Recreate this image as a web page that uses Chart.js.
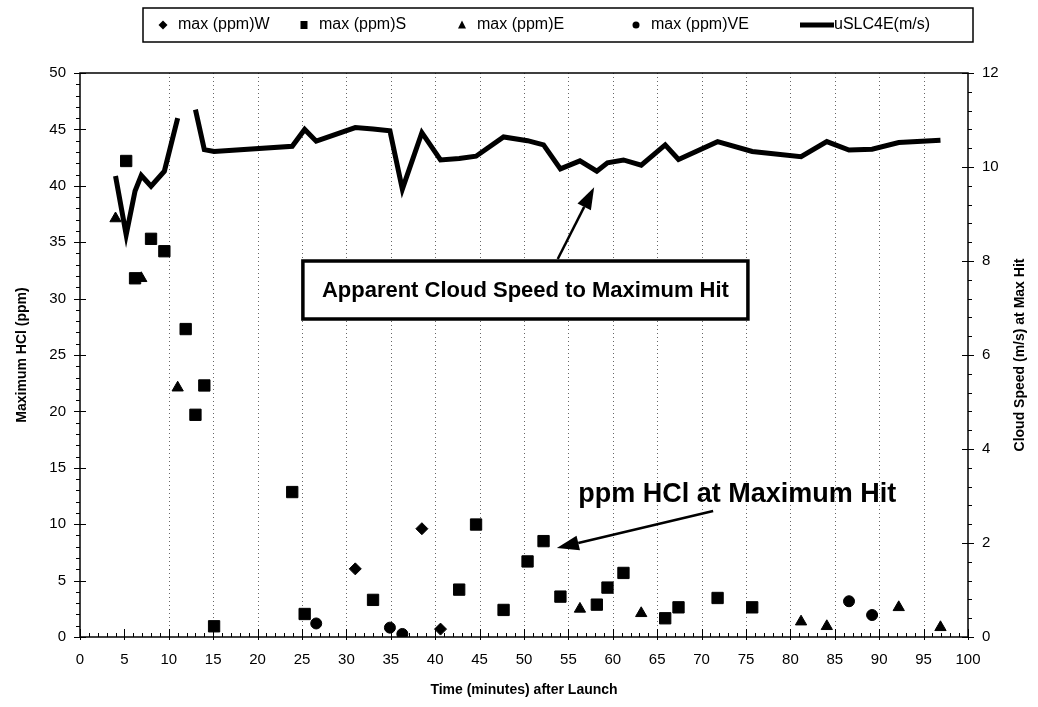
<!DOCTYPE html>
<html>
<head>
<meta charset="utf-8">
<script src="https://cdn.jsdelivr.net/npm/chart.js@4.4.1/dist/chart.umd.min.js"></script>
<style>
  html, body { margin: 0; padding: 0; background: #fff; }
  canvas { display: block; }
</style>
</head>
<body>
<canvas id="hclChart" width="1038" height="707"></canvas>
<script>
// time of each maximum hit (minutes after launch)
const hitTimes = [4.0, 5.2, 6.2, 6.9, 8.0, 9.5, 11.0, 11.9, 13.0, 14.0, 15.1, 23.9, 25.3, 26.6, 31.0, 33.0, 34.9, 36.3, 38.5, 40.6,
  42.7, 44.6, 47.7, 50.4, 52.2, 54.1, 56.3, 58.2, 59.4, 61.2, 63.2, 65.9, 67.4, 71.8, 75.7, 81.2, 84.1, 86.6, 89.2, 92.2, 96.9];
// peak HCl at that hit (ppm)
const hitPpm = [37.1, 42.2, 31.8, 31.8, 35.3, 34.2, 22.1, 27.3, 19.7, 22.3, 0.95, 12.85, 2.04, 1.2, 6.04, 3.29, 0.83, 0.27, 9.6, 0.7,
  4.2, 9.97, 2.4, 6.7, 8.5, 3.58, 2.49, 2.87, 4.38, 5.68, 2.1, 1.66, 2.63, 3.46, 2.63, 1.36, 0.95, 3.17, 1.95, 2.63, 0.86];
// monitor sector that saw the hit
const hitSector = ['E', 'S', 'S', 'E', 'S', 'S', 'E', 'S', 'S', 'S', 'S', 'S', 'S', 'VE', 'W', 'S', 'VE', 'VE', 'W', 'W',
  'S', 'S', 'S', 'S', 'S', 'S', 'E', 'S', 'S', 'S', 'E', 'S', 'S', 'S', 'S', 'E', 'E', 'VE', 'VE', 'E', 'E'];
// apparent cloud speed to the hit (m/s), null = no value
const cloudSpeed = [9.81, 8.56, 9.49, 9.82, 9.59, 9.91, 11.04, null, 11.22, 10.37, 10.33, 10.44, 10.80, 10.55, 10.84, 10.81, 10.77, 9.53, 10.73, 10.15,
  10.18, 10.23, 10.64, 10.56, 10.47, 9.96, 10.13, 9.91, 10.09, 10.15, 10.04, 10.47, 10.16, 10.54, 10.33, 10.22, 10.54, 10.36, 10.38, 10.52, 10.57];

const sectors = ['W', 'S', 'E', 'VE'];
const sectorStyles = ['rectRot', 'rect', 'triangle', 'circle'];
const sectorRadius = [6, 8, 6.5, 5.5];
const timeTicks = { min: 0, max: 100, step: 5 };
const ppmTicks = { min: 0, max: 50, step: 5 };
const speedTicks = { min: 0, max: 12, step: 2 };

const FONT = '"Liberation Sans", Arial, Helvetica, sans-serif';
Chart.defaults.font.family = FONT;
Chart.defaults.color = '#000';

function pointsFor(sector) {
  const pts = [];
  hitTimes.forEach((t, i) => {
    if (hitSector[i] === sector) pts.push({ x: t, y: hitPpm[i] });
  });
  return pts;
}

const datasets = sectors.map((s, i) => ({
  label: 'max (ppm)' + s,
  data: pointsFor(s),
  yAxisID: 'y',
  pointStyle: sectorStyles[i],
  pointRadius: sectorRadius[i],
  pointBackgroundColor: '#000',
  pointBorderColor: '#000',
  pointBorderWidth: 1,
  showLine: false
}));

datasets.push({
  label: 'uSLC4E(m/s)',
  data: hitTimes.map((t, i) => ({ x: t, y: cloudSpeed[i] })),
  yAxisID: 'y2',
  showLine: true,
  spanGaps: false,
  borderColor: '#000',
  borderWidth: 5,
  borderJoinStyle: 'miter',
  pointRadius: 0,
  tension: 0
});

function drawMarker(ctx, style, x, y) {
  ctx.beginPath();
  if (style === 'rectRot') {
    ctx.moveTo(x, y - 4.5); ctx.lineTo(x + 4.5, y); ctx.lineTo(x, y + 4.5); ctx.lineTo(x - 4.5, y);
    ctx.closePath();
  } else if (style === 'rect') {
    ctx.rect(x - 3.5, y - 4, 7, 8);
  } else if (style === 'triangle') {
    ctx.moveTo(x, y - 4.5); ctx.lineTo(x + 4, y + 3.5); ctx.lineTo(x - 4, y + 3.5);
    ctx.closePath();
  } else {
    ctx.arc(x, y, 3.5, 0, Math.PI * 2);
  }
  ctx.fill();
}

function drawArrow(ctx, x1, y1, x2, y2) {
  const ang = Math.atan2(y2 - y1, x2 - x1);
  const head = 22, half = 7.5;
  const bx = x2 - head * Math.cos(ang), by = y2 - head * Math.sin(ang);
  ctx.beginPath();
  ctx.moveTo(x1, y1);
  ctx.lineTo(bx, by);
  ctx.lineWidth = 2.5;
  ctx.stroke();
  ctx.beginPath();
  ctx.moveTo(x2, y2);
  ctx.lineTo(bx + half * Math.sin(ang), by - half * Math.cos(ang));
  ctx.lineTo(bx - half * Math.sin(ang), by + half * Math.cos(ang));
  ctx.closePath();
  ctx.fill();
}

const chartFrame = {
  id: 'chartFrame',
  beforeDatasetsDraw(chart) {
    const { ctx, chartArea: a, scales: { x } } = chart;
    ctx.save();
    // dotted verticals every 5 min from 10 to 95
    ctx.strokeStyle = '#666';
    ctx.lineWidth = 1;
    ctx.setLineDash([1, 3]);
    for (let t = 10; t < timeTicks.max; t += 5) {
      const px = Math.round(x.getPixelForValue(t)) + 0.5;
      ctx.beginPath();
      ctx.moveTo(px, a.top);
      ctx.lineTo(px, a.bottom);
      ctx.stroke();
    }
    ctx.restore();
  },
  afterDatasetsDraw(chart) {
    const { ctx, chartArea: a, scales: { x, y, y2 } } = chart;
    ctx.save();
    ctx.strokeStyle = '#000';
    ctx.fillStyle = '#000';

    // plot frame
    ctx.lineWidth = 1.5;
    ctx.strokeRect(a.left, a.top, a.right - a.left, a.bottom - a.top);

    // x ticks: minor each minute, major each 5
    ctx.lineWidth = 1;
    ctx.beginPath();
    for (let t = timeTicks.min; t <= timeTicks.max; t++) {
      const px = Math.round(x.getPixelForValue(t)) + 0.5;
      const major = t % 5 === 0;
      ctx.moveTo(px, a.bottom - (major ? 8 : 4));
      ctx.lineTo(px, a.bottom + (major ? 3 : 0));
    }
    // left ticks: minor each ppm, major each 5
    for (let v = ppmTicks.min; v <= ppmTicks.max; v++) {
      const py = Math.round(y.getPixelForValue(v)) + 0.5;
      const major = v % 5 === 0;
      ctx.moveTo(a.left - (major ? 6 : 4), py);
      ctx.lineTo(a.left + (major ? 6 : 0), py);
    }
    // right ticks: minor each 0.4, major each 2
    for (let k = 0; k <= 30; k++) {
      const v = k * 0.4;
      const py = Math.round(y2.getPixelForValue(v)) + 0.5;
      const major = k % 5 === 0;
      ctx.moveTo(a.right - (major ? 6 : 0), py);
      ctx.lineTo(a.right + (major ? 6 : 4), py);
    }
    ctx.stroke();

    // right axis title, reading upward
    ctx.save();
    ctx.translate(1020, (a.top + a.bottom) / 2);
    ctx.rotate(-Math.PI / 2);
    ctx.font = 'bold 14px ' + FONT;
    ctx.textAlign = 'center';
    ctx.textBaseline = 'middle';
    ctx.fillText('Cloud Speed (m/s) at Max Hit', 0, 0);
    ctx.restore();

    // legend
    ctx.lineWidth = 1.5;
    ctx.strokeRect(143, 8, 830, 34);
    ctx.font = '16px ' + FONT;
    ctx.textBaseline = 'middle';
    ctx.textAlign = 'left';
    const ly = 25;
    const markerX = [163, 304, 462, 636];
    sectors.forEach((s, i) => {
      drawMarker(ctx, sectorStyles[i], markerX[i], ly);
      ctx.fillText(chart.data.datasets[i].label, markerX[i] + 15, ly);
    });
    ctx.fillRect(800, ly - 2.5, 34, 5);
    ctx.fillText(chart.data.datasets[4].label, 834, ly);

    // callout for the speed line
    ctx.font = 'bold 22px ' + FONT;
    const boxText = 'Apparent Cloud Speed to Maximum Hit';
    const bw = ctx.measureText(boxText).width + 38;
    const bh = 58;
    const bx = x.getPixelForValue(25.1), by = y2.getPixelForValue(8.0);
    ctx.fillStyle = '#fff';
    ctx.fillRect(bx, by, bw, bh);
    ctx.fillStyle = '#000';
    ctx.lineWidth = 3.5;
    ctx.strokeRect(bx, by, bw, bh);
    ctx.textAlign = 'center';
    ctx.textBaseline = 'middle';
    ctx.fillText(boxText, bx + bw / 2, by + bh / 2 + 1);
    drawArrow(ctx, x.getPixelForValue(53.8), by - 2,
      x.getPixelForValue(57.9), y2.getPixelForValue(9.57));

    // callout for the ppm points
    ctx.font = 'bold 27px ' + FONT;
    ctx.textAlign = 'left';
    ctx.textBaseline = 'alphabetic';
    ctx.fillText('ppm HCl at Maximum Hit', x.getPixelForValue(56.1), y.getPixelForValue(12.0));
    drawArrow(ctx, x.getPixelForValue(71.3), y.getPixelForValue(11.17),
      x.getPixelForValue(53.7), y.getPixelForValue(7.89));

    ctx.restore();
  }
};

new Chart(document.getElementById('hclChart'), {
  type: 'scatter',
  data: { datasets },
  options: {
    responsive: false,
    animation: false,
    layout: { padding: { top: 73, left: 0, right: 0, bottom: 0 } },
    plugins: {
      legend: { display: false },
      tooltip: { enabled: false }
    },
    scales: {
      x: {
        type: 'linear',
        min: timeTicks.min, max: timeTicks.max,
        grid: { display: false, drawTicks: false },
        border: { display: false },
        ticks: { stepSize: timeTicks.step, padding: 14, autoSkip: false, maxRotation: 0, font: { size: 15 }, color: '#000' },
        title: { display: true, text: 'Time (minutes) after Launch', font: { size: 14, weight: 'bold' }, color: '#000', padding: { top: 0, bottom: 8 } },
        afterFit(scale) { scale.height = 70; }
      },
      y: {
        type: 'linear',
        position: 'left',
        min: ppmTicks.min, max: ppmTicks.max,
        grid: { display: false, drawTicks: false },
        border: { display: false },
        ticks: { stepSize: ppmTicks.step, padding: 14, font: { size: 15 }, color: '#000' },
        title: { display: true, text: 'Maximum HCl (ppm)', font: { size: 14, weight: 'bold' }, color: '#000', padding: { top: 14, bottom: 0 } },
        afterFit(scale) { scale.width = 80; }
      },
      y2: {
        type: 'linear',
        position: 'right',
        min: speedTicks.min, max: speedTicks.max,
        grid: { display: false, drawTicks: false },
        border: { display: false },
        ticks: { stepSize: speedTicks.step, padding: 14, font: { size: 15 }, color: '#000' },
        afterFit(scale) { scale.width = 70; }
      }
    }
  },
  plugins: [chartFrame]
});
</script>
</body>
</html>
